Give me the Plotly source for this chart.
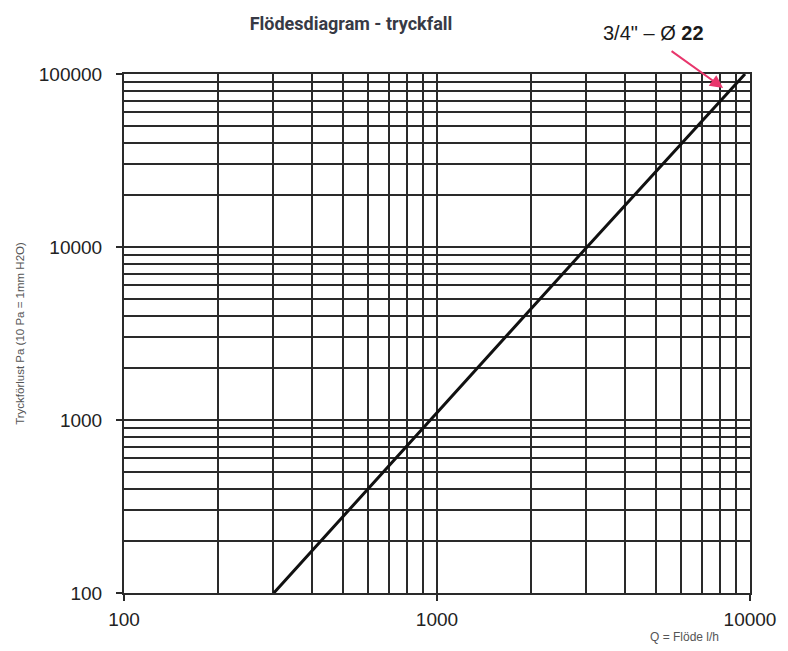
import plotly.graph_objects as go

# Data (flow Q in l/h vs pressure loss in Pa)
flow_lh = [301, 953, 3000, 9640]
pressure_pa = [100, 1000, 9900, 100000]

x_major = [100, 1000, 10000]
x_major_text = ["100", "1000", "10000"]
y_major = [100, 1000, 10000, 100000]
y_major_text = ["100", "1000", "10000", "100000"]
x_minor = [m * d for d in (100, 1000) for m in range(1, 11)]
y_minor = [m * d for d in (100, 1000, 10000) for m in range(1, 11)]

title_text = "Flödesdiagram - tryckfall"
series_label = "3/4\" – Ø <b>22</b>"
y_title = "Tryckförlust Pa (10 Pa = 1mm H2O)"
x_title = "Q = Flöde l/h"

GRID = "#2a2a2a"
OFF = 8  # page body margin
W, H = 788 - OFF, 651 - OFF

fig = go.Figure()
fig.add_trace(go.Scatter(
    x=flow_lh, y=pressure_pa, mode="lines",
    line=dict(color="#111111", width=3),
    showlegend=False, hoverinfo="x+y",
))

axis_common = dict(
    type="log",
    showline=True, linecolor=GRID, linewidth=2, mirror=True,
    ticks="outside", ticklen=6, tickcolor=GRID, tickwidth=1.5,
    showgrid=True, gridcolor=GRID, gridwidth=1.5,
    tickfont=dict(family="Liberation Sans, Arial, sans-serif", size=19, color="#222222"),
    zeroline=False,
)

fig.update_xaxes(
    **axis_common,
    range=[2, 4],
    tickmode="array", tickvals=x_major, ticktext=x_major_text,
    minor=dict(tickmode="array", tickvals=x_minor, showgrid=True,
               gridcolor=GRID, gridwidth=1.5, ticks=""),
    ticklabelstandoff=2,
)
fig.update_yaxes(
    **axis_common,
    range=[2, 5],
    tickmode="array", tickvals=y_major, ticktext=y_major_text,
    minor=dict(tickmode="array", tickvals=y_minor, showgrid=True,
               gridcolor=GRID, gridwidth=1.5, ticks=""),
    ticklabelstandoff=10,
)

PW = 634  # plot width in px
fig.update_layout(
    width=W, height=H,
    margin=dict(l=124 - OFF, r=W - (124 - OFF) - PW, t=74 - OFF, b=58),
    paper_bgcolor="white", plot_bgcolor="white",
    title=dict(
        text="<b>" + title_text + "</b>",
        xref="container", yref="container",
        x=(351 - OFF) / W, y=1 - (24 - OFF) / H, xanchor="center", yanchor="middle",
        font=dict(family="Roboto, sans-serif", size=18, color="#373a45"),
    ),
    annotations=[
        dict(
            text=series_label, xref="paper", yref="paper",
            x=(660 - 124) / PW, y=(593 - 33) / 519,
            xanchor="center", yanchor="middle", showarrow=False,
            font=dict(family="Liberation Sans, Arial, sans-serif", size=20, color="#1a1a1a"),
        ),
        dict(
            text="", xref="x", yref="y",
            x=3.914, y=4.919, ax=-53, ay=-38,
            showarrow=True, arrowhead=2, arrowsize=1.3, arrowwidth=2,
            arrowcolor="#e8366c", standoff=0,
        ),
        dict(
            text=y_title, xref="paper", yref="paper",
            x=(18 - 124) / PW, y=0.5, textangle=-90,
            xanchor="center", yanchor="middle", showarrow=False,
            font=dict(family="Liberation Sans, Arial, sans-serif", size=11.5, color="#555555"),
        ),
        dict(
            text=x_title, xref="paper", yref="paper",
            x=(692 - 124) / PW, y=-(637 - 593) / 519,
            xanchor="center", yanchor="middle", showarrow=False,
            font=dict(family="Liberation Sans, Arial, sans-serif", size=12, color="#555555"),
        ),
    ],
)

fig.write_html("out.html")
